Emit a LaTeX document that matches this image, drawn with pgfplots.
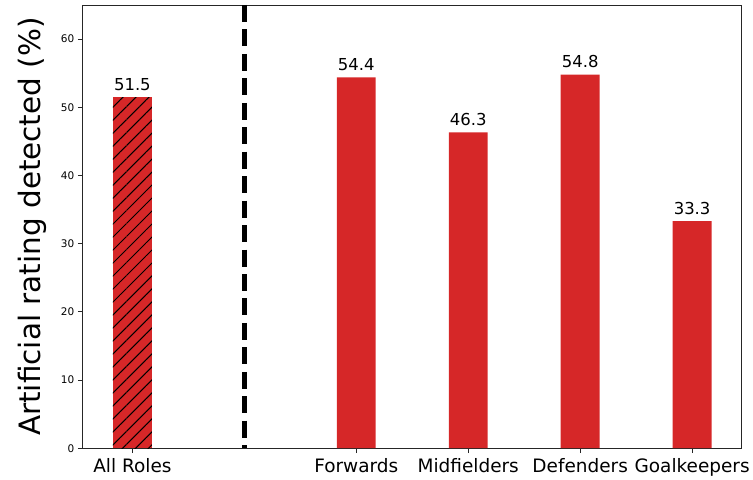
\documentclass[border=0pt]{standalone}
\usepackage{fontspec}
\setmainfont{DejaVu Sans}
\usepackage{pgfplots}
\pgfplotsset{compat=1.18}
\usetikzlibrary{patterns.meta}
\definecolor{barred}{HTML}{D62728}
\begin{document}
\begin{tikzpicture}
\path (-83pt,-26pt) rectangle (670pt,449pt);
\begin{axis}[
  at={(0,0)}, anchor=south west,
  width=660pt, height=444pt, scale only axis,
  xmin=-0.4425, xmax=5.4425,
  ymin=0, ymax=65,
  xtick={0,2,3,4,5},
  xticklabels={All Roles,Forwards,Midfielders,Defenders,Goalkeepers},
  ytick={0,10,20,30,40,50,60},
  tick pos=left,
  tick align=outside,
  major tick length=5pt,
  axis line style={line width=0.9pt, black!85},
  every tick/.style={line width=0.9pt, black!85},
  /pgf/number format/assume math mode=true,
  yticklabel style={font=\fontsize{10.5}{12}\selectfont},
  xticklabel style={font=\fontsize{18.5}{22}\selectfont, yshift=-2pt},
  clip=true,
]
\addplot[ybar, bar width=39pt, bar shift=0pt, fill=barred, draw=none,
  postaction={pattern={Lines[angle=45,distance=9.2pt,line width=1pt]}, pattern color=black},
  nodes near coords={\pgfmathprintnumber[fixed,fixed zerofill,precision=1]{\pgfplotspointmeta}},
  every node near coord/.append style={font=\fontsize{16.5}{19}\selectfont, anchor=base, inner sep=0pt, yshift=6.7pt}]
  coordinates {(0,51.5)};
\addplot[ybar, bar width=39pt, bar shift=0pt, fill=barred, draw=none,
  nodes near coords={\pgfmathprintnumber[fixed,fixed zerofill,precision=1]{\pgfplotspointmeta}},
  every node near coord/.append style={font=\fontsize{16.5}{19}\selectfont, anchor=base, inner sep=0pt, yshift=6.7pt}]
  coordinates {(2,54.4) (3,46.3) (4,54.8) (5,33.3)};
\addplot[sharp plot, black, line width=4.6pt, dash pattern=on 17pt off 7.5pt, line cap=butt]
  coordinates {(1,65) (1,0)};
\end{axis}
\node[rotate=90, anchor=base, font=\fontsize{29.5}{34}\selectfont] at (-42pt,222pt) {Artificial rating detected (\%)};
\end{tikzpicture}
\end{document}
